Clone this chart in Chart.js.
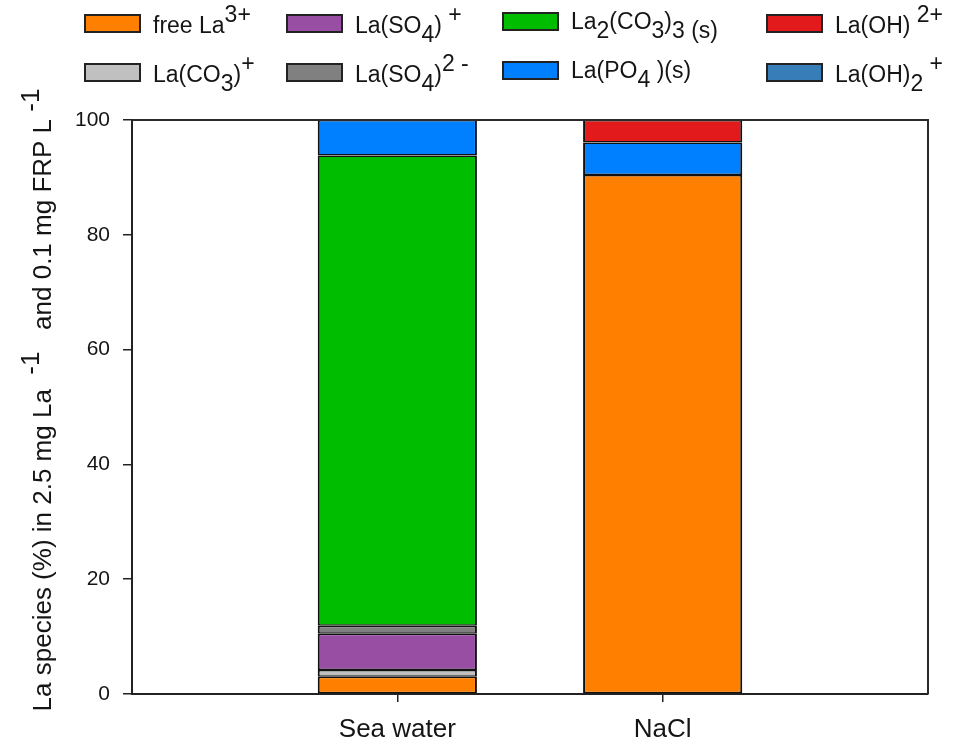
<!DOCTYPE html>
<html>
<head>
<meta charset="utf-8">
<script src="https://cdn.jsdelivr.net/npm/chart.js@4/dist/chart.umd.min.js"></script>
<style>
  html, body { margin: 0; padding: 0; background: #fff; }
  #wrap { position: relative; width: 961px; height: 745px; }
</style>
</head>
<body>
<div id="wrap"><canvas id="c" width="961" height="745"></canvas></div>
<script>
// Sample waters
const categories = ['Sea water', 'NaCl'];

// La species (%) per sample, bottom to top of each stack
const freeLa   = [3.0, 90.4];
const laCO3    = [1.2, 0];
const laSO4    = [6.3, 0];
const laSO4_2  = [1.4, 0];
const la2CO33  = [81.9, 0];
const laPO4    = [6.2, 5.7];
const laOH     = [0, 3.9];
const laOH2    = [0, 0];

// Species names; ^{..} marks a superscript, _{..} a subscript
const speciesLabels = [
  'free La^{3+}',
  'La(CO_{3})^{+}',
  'La(SO_{4}) ^{+}',
  'La(SO_{4})^{2 -}',
  'La_{2}(CO_{3})_{3 (s)}',
  'La(PO_{4} )(s)',
  'La(OH) ^{2+}',
  'La(OH)_{2} ^{+}'
];
const speciesColors = ['#FF8000', '#C0C0C0', '#984EA3', '#808080', '#00BD00', '#0080FF', '#E31A1C', '#377EB8'];

const yTicks = [0, 20, 40, 60, 80, 100];
const yTitle = 'La species (%) in 2.5 mg La  ^{-1}   and 0.1 mg FRP L ^{-1}';

const FONT = '"Liberation Sans", Arial, sans-serif';
const INK = '#151515';

const seriesValues = [freeLa, laCO3, laSO4, laSO4_2, la2CO33, laPO4, laOH, laOH2];

// --- rich text helpers (super/subscripts drawn on the canvas) ---
function parseRich(s, up, down) {
  const out = [];
  const re = /([\^_])\{([^}]*)\}/g;
  let last = 0, m;
  while ((m = re.exec(s))) {
    if (m.index > last) out.push({ t: s.slice(last, m.index), dy: 0 });
    out.push({ t: m[2], dy: m[1] === '^' ? -up : down });
    last = re.lastIndex;
  }
  if (last < s.length) out.push({ t: s.slice(last), dy: 0 });
  return out;
}
function plain(s) { return s.replace(/[\^_]\{([^}]*)\}/g, '$1'); }
function richWidth(ctx, segs) { return segs.reduce((w, s) => w + ctx.measureText(s.t).width, 0); }
function drawRich(ctx, segs, x, y) {
  for (const s of segs) {
    ctx.fillText(s.t, x, y + s.dy);
    x += ctx.measureText(s.t).width;
  }
}

// Legend: 4 columns x 2 rows, column-major in stacking order
const legendPlugin = {
  id: 'richLegend',
  afterDraw(chart) {
    const ctx = chart.ctx;
    const colX = [85, 287, 503, 767];
    const rowBase = [33, 82];
    const colShift = [0, 0, -4, 0];
    ctx.save();
    ctx.font = '23px ' + FONT;
    ctx.textBaseline = 'alphabetic';
    chart.data.datasets.forEach((ds, i) => {
      const col = Math.floor(i / 2), row = i % 2;
      const base = rowBase[row] + colShift[col];
      const sx = colX[col], sy = rowBase[row] - 18 + (col === 2 ? -2 : 0);
      ctx.fillStyle = ds.backgroundColor;
      ctx.fillRect(sx, sy, 55, 17);
      ctx.lineWidth = 2;
      ctx.strokeStyle = '#222';
      ctx.strokeRect(sx, sy, 55, 17);
      ctx.fillStyle = INK;
      drawRich(ctx, parseRich(speciesLabels[i], 11, 9), sx + 68, base);
    });
    ctx.restore();
  }
};

// Rotated y-axis title with superscripts
const yTitlePlugin = {
  id: 'richYTitle',
  afterDraw(chart) {
    const ctx = chart.ctx;
    const segs = parseRich(yTitle, 12, 10);
    ctx.save();
    ctx.font = '26px ' + FONT;
    ctx.fillStyle = INK;
    ctx.textBaseline = 'alphabetic';
    const w = richWidth(ctx, segs);
    ctx.translate(51, 400);
    ctx.rotate(-Math.PI / 2);
    drawRich(ctx, segs, -w / 2, 0);
    ctx.restore();
  }
};

// Closes the plot box on the top and right
const framePlugin = {
  id: 'frame',
  afterDatasetsDraw(chart) {
    const { ctx, chartArea: a } = chart;
    ctx.save();
    ctx.strokeStyle = '#2a2a2a';
    ctx.lineWidth = 2;
    ctx.beginPath();
    ctx.moveTo(a.left, a.top);
    ctx.lineTo(a.right, a.top);
    ctx.lineTo(a.right, a.bottom);
    ctx.stroke();
    ctx.restore();
  }
};

// Empty slots on both ends of the axis; species absent from a sample get no segment
const toStack = arr => [null, ...arr.map(v => (v === 0 ? null : v)), null];

new Chart(document.getElementById('c'), {
  type: 'bar',
  data: {
    labels: ['', ...categories, ''],
    datasets: seriesValues.map((vals, i) => ({
      label: plain(speciesLabels[i]),
      data: toStack(vals),
      backgroundColor: speciesColors[i],
      borderColor: '#111',
      borderWidth: { top: 1.5, bottom: 1.5, left: 2, right: 2 },
      borderSkipped: false,
      barPercentage: 0.6,
      categoryPercentage: 1
    }))
  },
  options: {
    responsive: false,
    animation: false,
    devicePixelRatio: 1,
    layout: { padding: { top: 120, right: 33, left: 0, bottom: 0 } },
    plugins: { legend: { display: false }, tooltip: { enabled: false } },
    scales: {
      x: {
        stacked: true,
        offset: false,
        grid: {
          offset: false,
          drawOnChartArea: false,
          tickLength: 8,
          lineWidth: 1.5,
          tickColor: c => (c.index === 0 || c.index === categories.length + 1) ? 'rgba(0,0,0,0)' : '#222'
        },
        border: { color: '#222', width: 2 },
        ticks: { font: { size: 26, family: FONT }, color: INK, padding: 12, maxRotation: 0, autoSkip: false },
        afterFit: s => { s.height = 51; }
      },
      y: {
        stacked: true,
        min: yTicks[0],
        max: yTicks[yTicks.length - 1],
        afterBuildTicks: s => { s.ticks = yTicks.map(v => ({ value: v })); },
        grid: { drawOnChartArea: false, tickLength: 9, lineWidth: 1.5, tickColor: '#222' },
        border: { color: '#222', width: 2 },
        ticks: { font: { size: 21, family: FONT }, color: INK, padding: 13 },
        afterFit: s => { s.width = 132; }
      }
    }
  },
  plugins: [legendPlugin, yTitlePlugin, framePlugin]
});
</script>
</body>
</html>
